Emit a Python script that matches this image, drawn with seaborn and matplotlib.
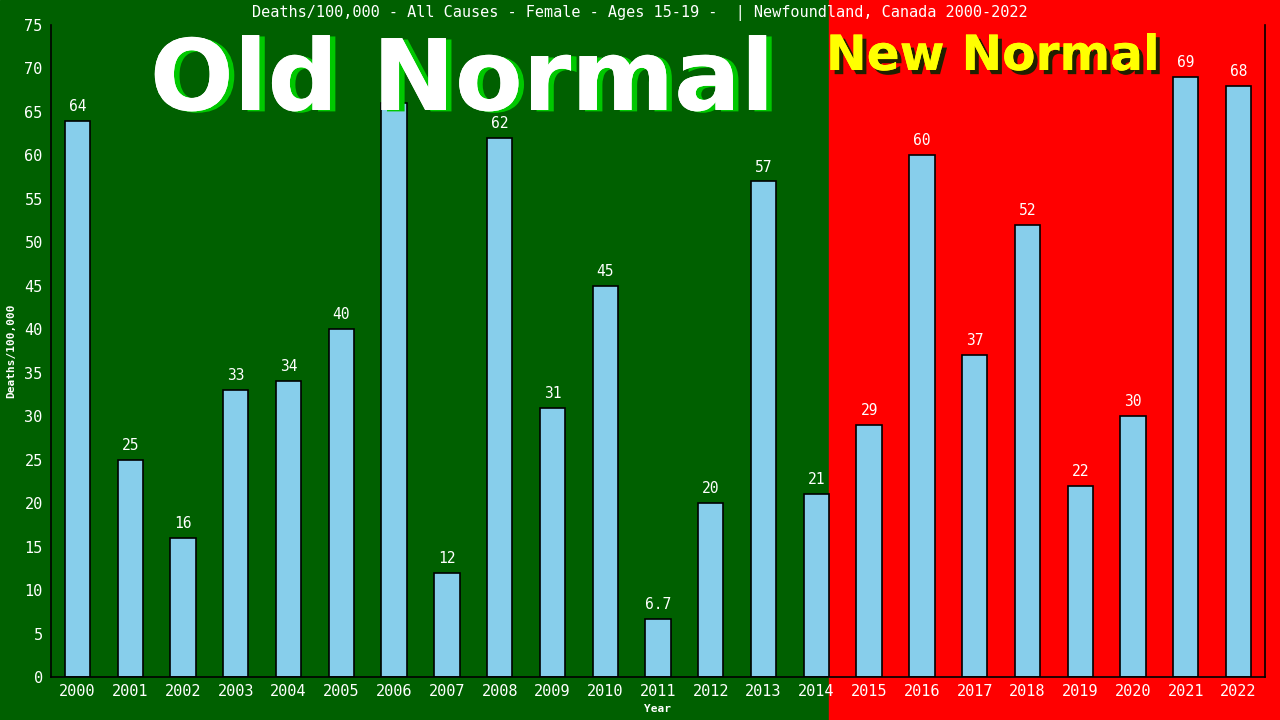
import matplotlib
matplotlib.use("Agg")
import matplotlib.pyplot as plt
import matplotlib.patheffects as pe
import pandas as pd
import seaborn as sns

# Data
years = [str(y) for y in range(2000, 2023)]
deaths = [64, 25, 16, 33, 34, 40, 66, 12, 62, 31, 45, 6.7, 20, 57, 21,
          29, 60, 37, 52, 22, 30, 69, 68]
labels = ["64", "25", "16", "33", "34", "40", "66", "12", "62", "31", "45", "6.7",
          "20", "57", "21", "29", "60", "37", "52", "22", "30", "69", "68"]

df = pd.DataFrame({"Year": years, "Deaths": deaths})

sns.set_style("white")
plt.rcParams["font.family"] = ["DejaVu Sans Mono", "DejaVu Sans"]

fig = plt.figure(figsize=(12.8, 7.2), dpi=100)
# split background: green (old normal) / red (new normal)
split = 829 / 1280
fig.patches.append(plt.Rectangle((0, 0), split, 1, transform=fig.transFigure,
                                 color="#006000", zorder=-10))
fig.patches.append(plt.Rectangle((split, 0), 1 - split, 1, transform=fig.transFigure,
                                 color="#ff0000", zorder=-10))

ax = fig.add_axes([51 / 1280, 1 - 677 / 720, (1265 - 51) / 1280, (677 - 25) / 720])
ax.patch.set_alpha(0)

sns.barplot(data=df, x="Year", y="Deaths", color="#87ceeb", saturation=1,
            width=0.48, edgecolor="black", linewidth=1.2, ax=ax)

for i, (v, lab) in enumerate(zip(deaths, labels)):
    ax.text(i, v + 0.8, lab, ha="center", va="bottom", color="white",
            fontsize=10.5)

ax.set_xlim(-0.5, 22.5)
ax.set_ylim(0, 75)
ax.set_yticks(range(0, 76, 5))
ax.tick_params(axis="y", direction="inout", length=8, width=1, color="black",
               labelcolor="white", labelsize=11, pad=2)
ax.tick_params(axis="x", length=0, labelcolor="white", labelsize=11, pad=5)

for s in ["left", "bottom", "right"]:
    ax.spines[s].set_color("black")
    ax.spines[s].set_linewidth(1.2)
ax.spines["top"].set_visible(False)

ax.set_xlabel("Year", color="white", fontsize=8, fontweight="bold", labelpad=4)
ax.set_ylabel("Deaths/100,000", color="white", fontsize=8, fontweight="bold", labelpad=6)

fig.text(0.5, 1 - 13 / 720,
         "Deaths/100,000 - All Causes - Female - Ages 15-19 -  | Newfoundland, Canada 2000-2022",
         ha="center", va="center", color="white", fontsize=11)

fig.text(462 / 1280, 1 - 110 / 720, "Old Normal", ha="center", va="baseline",
         color="white", fontsize=71, fontweight="bold", family="DejaVu Sans",
         zorder=20,
         path_effects=[pe.withSimplePatchShadow(offset=(4, -1), shadow_rgbFace="#00c800", alpha=1),
                       pe.Normal()])
fig.text(993 / 1280, 1 - 70 / 720, "New Normal", ha="center", va="baseline",
         color="#ffff00", fontsize=35, fontweight="bold", family="DejaVu Sans",
         zorder=20,
         path_effects=[pe.withSimplePatchShadow(offset=(3, -3), shadow_rgbFace="#202000", alpha=1),
                       pe.Normal()])

fig.savefig("out.png", dpi=100)
